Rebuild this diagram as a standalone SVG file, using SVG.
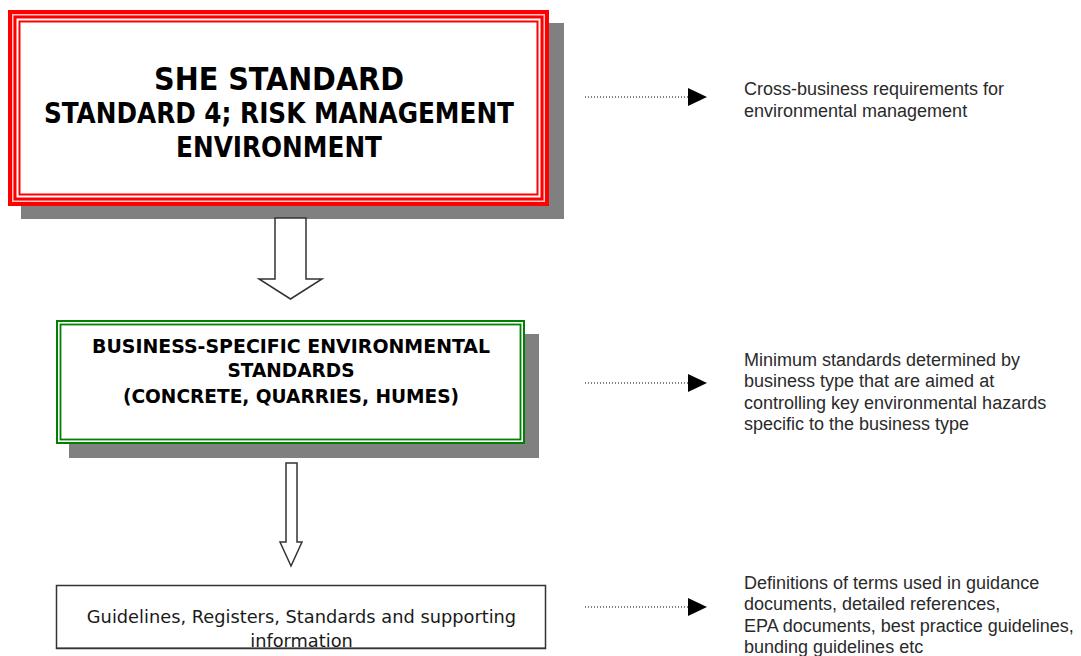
<svg xmlns="http://www.w3.org/2000/svg" width="1081" height="656" viewBox="0 0 1081 656">
  <defs>
    <marker id="tri" markerWidth="19" markerHeight="18" refX="1" refY="9" orient="auto" markerUnits="userSpaceOnUse">
      <path d="M0,0 L19,9 L0,18 Z" fill="#000"/>
    </marker>
  </defs>
  <style>
    .shadow { fill: #808080; }
    .head { font-family: "DejaVu Sans Condensed", "DejaVu Sans", sans-serif; font-weight: bold; fill: #000; text-anchor: middle; }
    .plain { font-family: "DejaVu Sans", "Liberation Sans", sans-serif; font-size: 17.8px; fill: #1a1a1a; text-anchor: middle; }
    .note { font-family: "Liberation Sans", Arial, sans-serif; font-size: 18px; fill: #2a2a2a; }
    .block { fill: #fff; stroke: #333; stroke-width: 1.5; }
    .dots { stroke: #000; stroke-width: 1; stroke-dasharray: 1 2; fill: none; }
  </style>

  <rect width="1081" height="656" fill="#fff"/>

  <!-- top standard box with triple red frame -->
  <g id="she-standard">
    <rect class="shadow" x="21" y="23" width="543" height="196"/>
    <rect x="8" y="10" width="541" height="196" fill="#ff0000"/>
    <rect x="12" y="14" width="533" height="188" fill="#ffc8c8"/>
    <rect x="13.5" y="15.5" width="530" height="185" fill="#ff0000"/>
    <rect x="16.5" y="18.5" width="524" height="179" fill="#fff"/>
    <rect x="18.5" y="20.5" width="520" height="175" fill="#ff0000"/>
    <rect x="20.5" y="22.5" width="516" height="171" fill="#fff"/>
    <text class="head" x="279" y="90" font-size="32" textLength="250" lengthAdjust="spacingAndGlyphs">SHE STANDARD</text>
    <text class="head" x="279" y="123" font-size="28" textLength="470" lengthAdjust="spacingAndGlyphs">STANDARD 4; RISK MANAGEMENT</text>
    <text class="head" x="279" y="157" font-size="28" textLength="206" lengthAdjust="spacingAndGlyphs">ENVIRONMENT</text>
  </g>

  <!-- business-specific box with double green frame -->
  <g id="business-standards">
    <rect class="shadow" x="69" y="334" width="470" height="124"/>
    <rect x="56" y="320" width="469" height="124" fill="#fff"/>
    <rect x="57" y="321" width="467" height="122" fill="none" stroke="#008000" stroke-width="2"/>
    <rect x="60.5" y="324.5" width="460" height="115" fill="none" stroke="#008000" stroke-width="1.8"/>
    <text class="head" x="291" y="353" font-size="19" textLength="398" lengthAdjust="spacingAndGlyphs">BUSINESS-SPECIFIC ENVIRONMENTAL</text>
    <text class="head" x="291" y="377" font-size="19" textLength="127" lengthAdjust="spacingAndGlyphs">STANDARDS</text>
    <text class="head" x="291" y="403" font-size="19" textLength="336" lengthAdjust="spacingAndGlyphs">(CONCRETE, QUARRIES, HUMES)</text>
  </g>

  <!-- supporting information box -->
  <g id="supporting-info">
    <rect x="56.5" y="585.5" width="489" height="63" fill="#fff" stroke="#333" stroke-width="1.5"/>
    <text class="plain" x="301.5" y="623">Guidelines, Registers, Standards and supporting</text>
    <text class="plain" x="301.5" y="647">information</text>
    <rect x="56.5" y="647.5" width="489" height="1.5" fill="#333"/>
  </g>

  <!-- descriptions on the right -->
  <g id="note-cross-business">
    <text class="note" x="744" y="95">Cross-business requirements for</text>
    <text class="note" x="744" y="117">environmental management</text>
  </g>
  <g id="note-minimum">
    <text class="note" x="744" y="366">Minimum standards determined by</text>
    <text class="note" x="744" y="387">business type that are aimed at</text>
    <text class="note" x="744" y="409">controlling key environmental hazards</text>
    <text class="note" x="744" y="430">specific to the business type</text>
  </g>
  <g id="note-definitions">
    <text class="note" x="744" y="589">Definitions of terms used in guidance</text>
    <text class="note" x="744" y="610">documents, detailed references,</text>
    <text class="note" x="744" y="632">EPA documents, best practice guidelines,</text>
    <text class="note" x="744" y="653">bunding guidelines etc</text>
  </g>

  <!-- connectors -->
  <g id="connectors">
    <polygon class="block" points="275,218 306,218 306,279 322,279 290.5,299 259,279 275,279"/>
    <polygon class="block" points="286,463 297,463 297,542 302,542 291,566 280,542 286,542"/>
    <line class="dots" x1="585" y1="97" x2="689" y2="97" marker-end="url(#tri)"/>
    <line class="dots" x1="585" y1="383" x2="689" y2="383" marker-end="url(#tri)"/>
    <line class="dots" x1="585" y1="607" x2="689" y2="607" marker-end="url(#tri)"/>
  </g>
</svg>
